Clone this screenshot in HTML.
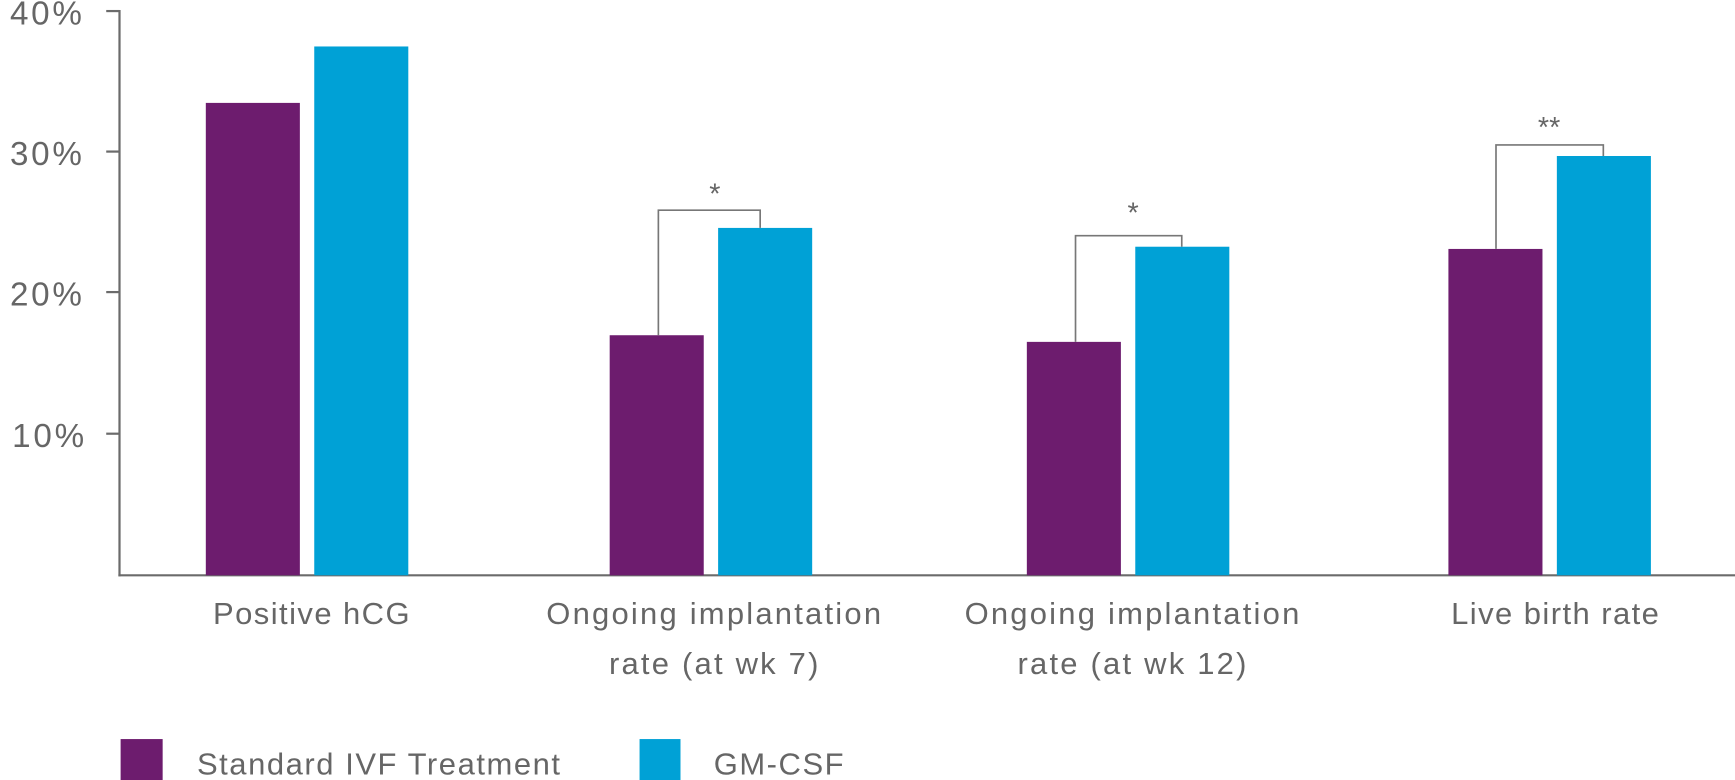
<!DOCTYPE html>
<html><head><meta charset="utf-8"><style>
html,body{margin:0;padding:0;background:#fff;}
svg{display:block;}
text{font-family:"Liberation Sans",sans-serif;fill:#666;}
</style></head><body>
<svg width="1735" height="780" viewBox="0 0 1568 705" preserveAspectRatio="none" xmlns="http://www.w3.org/2000/svg">
<g stroke="#6b6b6b" stroke-width="2" fill="none">
<line x1="108" y1="9" x2="108" y2="521"/>
<line x1="107" y1="520" x2="1568" y2="520"/>
<line x1="96" y1="10" x2="108" y2="10"/>
<line x1="96" y1="137" x2="108" y2="137"/>
<line x1="96" y1="264" x2="108" y2="264"/>
<line x1="96" y1="392" x2="108" y2="392"/>
</g>
<g font-size="30" letter-spacing="2.5">
<text x="9" y="22">40%</text>
<text x="9" y="149">30%</text>
<text x="9" y="276">20%</text>
<text x="11" y="404">10%</text>
</g>
<g fill="#6d1c6e">
<rect x="186" y="93" width="85" height="427"/>
<rect x="551" y="303" width="85" height="217"/>
<rect x="928" y="309" width="85" height="211"/>
<rect x="1309" y="225" width="85" height="295"/>
</g>
<g fill="#00a1d6">
<rect x="284" y="42" width="85" height="478"/>
<rect x="649" y="206" width="85" height="314"/>
<rect x="1026" y="223" width="85" height="297"/>
<rect x="1407" y="141" width="85" height="379"/>
</g>
<g stroke="#777" stroke-width="1.5" fill="none">
<polyline points="595,303 595,190 687,190 687,206"/>
<polyline points="972,309 972,213 1068,213 1068,223"/>
<polyline points="1352,225 1352,131 1449,131 1449,141"/>
</g>
<g font-size="26" text-anchor="middle">
<text x="646" y="184">*</text>
<text x="1024" y="201">*</text>
<text x="1400" y="124">**</text>
</g>
<g font-size="28" text-anchor="middle" letter-spacing="1.3">
<text x="282" y="564">Positive hCG</text>
<text x="1406" y="564">Live birth rate</text>
</g>
<g font-size="28" text-anchor="middle" letter-spacing="2">
<text x="646" y="564">Ongoing implantation</text>
<text x="646" y="609">rate (at wk 7)</text>
<text x="1024" y="564">Ongoing implantation</text>
<text x="1024" y="609">rate (at wk 12)</text>
</g>
<rect x="109" y="668" width="38" height="37" fill="#6d1c6e"/>
<rect x="578" y="668" width="37" height="37" fill="#00a1d6"/>
<g font-size="28" letter-spacing="1.4">
<text x="178" y="700">Standard IVF Treatment</text>
<text x="645" y="700">GM-CSF</text>
</g>
</svg>
</body></html>
